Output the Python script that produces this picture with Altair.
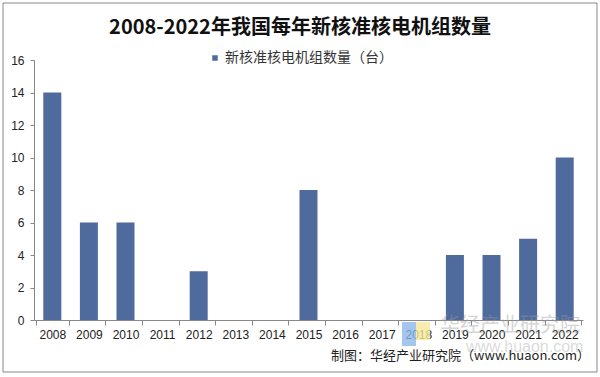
import altair as alt
import pandas as pd

years = ["2008", "2009", "2010", "2011", "2012", "2013", "2014", "2015",
         "2016", "2017", "2018", "2019", "2020", "2021", "2022"]
units = [14, 6, 6, 0, 3, 0, 0, 8, 0, 0, 0, 4, 4, 5, 10]
series_name = "新核准核电机组数量（台）"
title_text = "2008-2022年我国每年新核准核电机组数量"
source_text = "制图：华经产业研究院（www.huaon.com）"
y_ticks = [0, 2, 4, 6, 8, 10, 12, 14, 16]

df = pd.DataFrame({"year": years, "units": units, "series": [series_name] * len(years)})

W, H = 549, 260
FONT = "Noto Sans CJK SC"
BAR = "#4F6A9C"

bars = alt.Chart(df).mark_bar(width=18).encode(
    x=alt.X("year:N", sort=years,
            axis=alt.Axis(title=None, labelAngle=0, labelFontSize=12, labelColor="#222",
                          labelFont="Liberation Sans", tickBand="extent", tickSize=5,
                          tickColor="#888", domainColor="#888", labelPadding=4)),
    y=alt.Y("units:Q", scale=alt.Scale(domain=[0, 16]),
            axis=alt.Axis(title=None, values=y_ticks, grid=False, labelFontSize=12,
                          labelColor="#222", labelFont="Liberation Sans", tickSize=4,
                          tickColor="#888", domainColor="#888", labelPadding=6)),
    color=alt.Color("series:N", scale=alt.Scale(range=[BAR]),
                    legend=alt.Legend(title=None, orient="none", legendX=174, legendY=-9,
                                      symbolType="square", symbolSize=30,
                                      labelFontSize=14, labelFont=FONT, labelColor="#333",
                                      labelLimit=400, labelOffset=3,
                                      symbolStrokeWidth=0)),
)

title = alt.Chart(pd.DataFrame({"t": [title_text]})).mark_text(
    font=FONT, fontSize=20, fontWeight="bold", color="#111", align="center", baseline="middle"
).encode(text="t:N", x=alt.value(266), y=alt.value(-32))

source = alt.Chart(pd.DataFrame({"t": [source_text]})).mark_text(
    font=FONT, fontSize=13, color="#222", align="right", baseline="middle"
).encode(text="t:N", x=alt.value(556), y=alt.value(296))

wm1 = alt.Chart(pd.DataFrame({"t": ["华经产业研究院"]})).mark_text(
    font=FONT, fontSize=20, color="#999", opacity=0.4, align="left", baseline="middle"
).encode(text="t:N", x=alt.value(406), y=alt.value(266))

wm2 = alt.Chart(pd.DataFrame({"t": ["www.huaon.com"]})).mark_text(
    font="Liberation Sans", fontSize=16, color="#999", opacity=0.35, align="left", baseline="middle"
).encode(text="t:N", x=alt.value(432), y=alt.value(287))

logo_b = alt.Chart(pd.DataFrame({"a": [1]})).mark_rect(color="#8DB8E8", opacity=0.8).encode(
    x=alt.value(368), x2=alt.value(382), y=alt.value(262), y2=alt.value(286))
logo_y = alt.Chart(pd.DataFrame({"a": [1]})).mark_rect(color="#F5E99A", opacity=0.8).encode(
    x=alt.value(382), x2=alt.value(396), y=alt.value(262), y2=alt.value(280))

border = alt.Chart(pd.DataFrame({"a": [1]})).mark_rect(
    fill=None, stroke="#888", strokeWidth=1).encode(
    x=alt.value(-31), x2=alt.value(563), y=alt.value(-57), y2=alt.value(312))

chart = alt.layer(border, logo_b, logo_y, bars, title, source, wm1, wm2).properties(
    width=W, height=H,
    autosize=alt.AutoSizeParams(type="none"),
    padding={"left": 34, "top": 60, "right": 17, "bottom": 57},
    background="white",
).configure_view(stroke=None)

chart.save("out.html", embed_options={"renderer": "svg", "actions": False})
